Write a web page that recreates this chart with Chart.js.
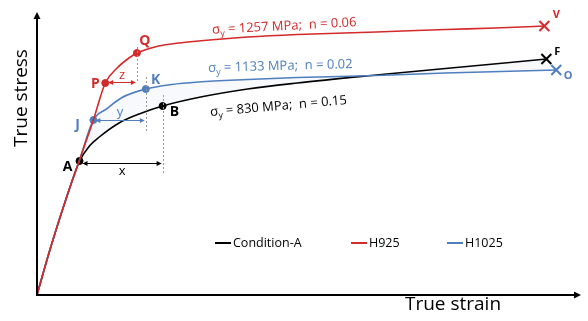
<!DOCTYPE html>
<html>
<head>
<meta charset="utf-8">
<script src="https://cdn.jsdelivr.net/npm/chart.js@4.4.0/dist/chart.umd.min.js"></script>
<style>
  html, body { margin: 0; padding: 0; background: #fff; }
  #wrap { width: 588px; height: 321px; }
</style>
</head>
<body>
<div id="wrap"><canvas id="chartCurvas" width="588" height="321"></canvas></div>
<script>
// ==============================
//  DATOS (unidades arbitrarias)
// ==============================
const strainCondA = [0, 1.3, 3.0, 4.3, 5.3, 6.3, 8.3, 10.6, 12.7, 16.3, 21.3, 26.3, 34.3, 41.3, 51.5];
const stressCondA = [0, 270, 588, 804, 894, 948, 1032, 1092, 1134, 1185, 1236, 1272, 1320, 1359, 1416];

const strainH925 = [0, 1.3, 3.0, 4.3, 5.7, 6.9, 8.1, 9.3, 10.1, 12.3, 14.3, 16.3, 21.3, 26.3, 34.3, 41.3, 46.3, 51.3];
const stressH925 = [0, 270, 588, 810, 1050, 1272, 1362, 1422, 1452, 1494, 1512, 1524, 1548, 1563, 1578, 1593, 1602, 1614];

const strainH1025 = [0, 1.3, 3.0, 4.3, 5.7, 7.0, 8.6, 11.0, 13.6, 16.3, 21.3, 26.3, 34.3, 41.3, 52.5];
const stressH1025 = [0, 270, 588, 810, 1050, 1115, 1185, 1236, 1263, 1278, 1293, 1305, 1317, 1332, 1350];

const seriesNames = ["Condition-A", "H925", "H1025"];
const seriesColors = ["#000000", "#d42a2a", "#4f7fbf"];

// puntos marcados (A, B, J, K, P, Q)
const pointLabels = ["A", "B", "J", "K", "P", "Q"];
const pointStrain = [4.3, 12.7, 5.7, 11.0, 6.9, 10.1];
const pointStress = [804, 1134, 1050, 1236, 1272, 1452];
const pointSeries = [0, 0, 2, 2, 1, 1];

// fin de curva (F, V, O)
const endLabels = ["F", "V", "O"];
const endStrain = [51.5, 51.3, 52.5];
const endStress = [1416, 1614, 1350];

// textos de parámetros
const paramSigma = [830, 1257, 1133];
const paramN = ["0.15", "0.06", "0.02"];

// ==============================
//  HELPERS
// ==============================
function toXY(xs, ys) {
  return xs.map((x, i) => ({ x: x, y: ys[i] }));
}

function arrowHead(ctx, x, y, dir, size) {
  // dir: ángulo hacia donde apunta la flecha
  ctx.beginPath();
  ctx.moveTo(x, y);
  ctx.lineTo(x - size * Math.cos(dir) + size * 0.5 * Math.sin(dir), y - size * Math.sin(dir) - size * 0.5 * Math.cos(dir));
  ctx.lineTo(x - size * Math.cos(dir) - size * 0.5 * Math.sin(dir), y - size * Math.sin(dir) + size * 0.5 * Math.cos(dir));
  ctx.closePath();
  ctx.fill();
}

// líneas punteadas verticales y flechas de distancia (en unidades de datos)
const guides = [
  { x: 12.7, y1: 1200, y2: 732 },
  { x: 11.0, y1: 1308, y2: 972 },
  { x: 10.1, y1: 1488, y2: 1278 }
];
const spans = [
  { x1: 4.6, x2: 12.6, y: 792, color: seriesColors[0], label: "x", ly: 744 },
  { x1: 5.9, x2: 10.9, y: 1050, color: seriesColors[2], label: "y", ly: 1098 },
  { x1: 7.2, x2: 10.0, y: 1278, color: seriesColors[1], label: "z", ly: 1320 }
];
const labelPos = [
  { x: 3.1, y: 768 }, { x: 13.9, y: 1098 }, { x: 4.1, y: 1020 },
  { x: 12.0, y: 1290 }, { x: 5.9, y: 1266 }, { x: 10.9, y: 1524 }
];
const endLabelPos = [{ x: 52.6, y: 1458 }, { x: 52.5, y: 1680 }, { x: 53.7, y: 1314 }];
const paramPos = [
  { x: 24.4, y: 1140, rot: -5 },
  { x: 25.0, y: 1620, rot: -3 },
  { x: 24.6, y: 1380, rot: -1.5 }
];

const FONT = "'Open Sans', 'DejaVu Sans', sans-serif";

// ==============================
//  PLUGIN DE ANOTACIONES
// ==============================
const annotPlugin = {
  id: "annot",
  afterDatasetsDraw(chart) {
    const ctx = chart.ctx;
    const xs = chart.scales.x, ys = chart.scales.y;
    const ca = chart.chartArea;
    const px = v => xs.getPixelForValue(v);
    const py = v => ys.getPixelForValue(v);

    ctx.save();

    // ejes con flechas
    ctx.strokeStyle = "#000";
    ctx.fillStyle = "#000";
    ctx.lineWidth = 2;
    ctx.beginPath();
    ctx.moveTo(ca.left, ca.top + 4);
    ctx.lineTo(ca.left, ca.bottom);
    ctx.lineTo(ca.right - 4, ca.bottom);
    ctx.stroke();
    arrowHead(ctx, ca.left, ca.top - 2, -Math.PI / 2, 7);
    arrowHead(ctx, ca.right + 2, ca.bottom, 0, 7);

    // guías punteadas
    ctx.strokeStyle = "#9a9a9a";
    ctx.lineWidth = 1;
    ctx.setLineDash([2, 2]);
    guides.forEach(g => {
      ctx.beginPath();
      ctx.moveTo(Math.round(px(g.x)) + 0.5, py(g.y1));
      ctx.lineTo(Math.round(px(g.x)) + 0.5, py(g.y2));
      ctx.stroke();
    });
    ctx.setLineDash([]);

    // flechas x, y, z
    spans.forEach(s => {
      const a = px(s.x1), b = px(s.x2), y = Math.round(py(s.y)) + 0.5;
      ctx.strokeStyle = s.color;
      ctx.fillStyle = s.color;
      ctx.lineWidth = 1;
      ctx.beginPath();
      ctx.moveTo(a + 3, y);
      ctx.lineTo(b - 3, y);
      ctx.stroke();
      arrowHead(ctx, a, y, Math.PI, 5);
      arrowHead(ctx, b, y, 0, 5);
      ctx.font = "13px " + FONT;
      ctx.textAlign = "center";
      ctx.textBaseline = "middle";
      ctx.fillText(s.label, (a + b) / 2, py(s.ly));
    });

    // etiquetas de puntos
    ctx.font = "bold 14px " + FONT;
    ctx.textAlign = "center";
    ctx.textBaseline = "middle";
    pointLabels.forEach((t, i) => {
      ctx.fillStyle = seriesColors[pointSeries[i]];
      ctx.fillText(t, px(labelPos[i].x), py(labelPos[i].y));
    });
    ctx.font = "bold 11px " + FONT;
    endLabels.forEach((t, i) => {
      ctx.fillStyle = seriesColors[i];
      ctx.fillText(t, px(endLabelPos[i].x), py(endLabelPos[i].y));
    });

    // textos de parámetros
    paramPos.forEach((p, i) => {
      ctx.save();
      ctx.translate(px(p.x), py(p.y));
      ctx.rotate(p.rot * Math.PI / 180);
      ctx.fillStyle = seriesColors[i];
      ctx.textBaseline = "alphabetic";
      ctx.textAlign = "left";
      const main = "13px " + FONT, sub = "9px " + FONT;
      const rest = " = " + paramSigma[i] + " MPa;  n = " + paramN[i];
      ctx.font = main;
      const w1 = ctx.measureText("σ").width;
      const wr = ctx.measureText(rest).width;
      ctx.font = sub;
      const ws = ctx.measureText("y").width;
      let x0 = -(w1 + ws + wr) / 2;
      ctx.font = main;
      ctx.fillText("σ", x0, 5);
      ctx.font = sub;
      ctx.fillText("y", x0 + w1, 8);
      ctx.font = main;
      ctx.fillText(rest, x0 + w1 + ws, 5);
      ctx.restore();
    });

    // leyenda
    const legX = [215, 351, 447];
    const legY = 243;
    ctx.font = "12.5px " + FONT;
    ctx.textAlign = "left";
    ctx.textBaseline = "middle";
    seriesNames.forEach((n, i) => {
      ctx.strokeStyle = seriesColors[i];
      ctx.lineWidth = 2;
      ctx.beginPath();
      ctx.moveTo(legX[i], legY);
      ctx.lineTo(legX[i] + 16, legY);
      ctx.stroke();
      ctx.fillStyle = "#000";
      ctx.fillText(n, legX[i] + 18, legY);
    });

    // títulos de ejes
    ctx.fillStyle = "#000";
    ctx.font = "19px " + FONT;
    ctx.textAlign = "center";
    ctx.textBaseline = "middle";
    ctx.fillText("True strain", 453, 305);
    ctx.save();
    ctx.translate(22, 98);
    ctx.rotate(-Math.PI / 2);
    ctx.fillText("True stress", 0, 0);
    ctx.restore();

    ctx.restore();
  }
};

// ==============================
//  GRÁFICO
// ==============================
const curveStyle = (i) => ({
  borderColor: seriesColors[i],
  backgroundColor: seriesColors[i],
  borderWidth: 1.6,
  pointRadius: 0,
  showLine: true,
  cubicInterpolationMode: "monotone"
});

// Chart.js pinta el primer dataset encima: rojo, azul (relleno hacia el negro), negro
const datasets = [
  Object.assign({ label: seriesNames[1], data: toXY(strainH925, stressH925) }, curveStyle(1)),
  Object.assign({ label: seriesNames[2], data: toXY(strainH1025, stressH1025) }, curveStyle(2),
    { fill: { target: 2 }, backgroundColor: "rgba(79,127,191,0.045)" }),
  Object.assign({ label: seriesNames[0], data: toXY(strainCondA, stressCondA) }, curveStyle(0))
];

// puntos marcados
pointLabels.forEach((t, i) => {
  datasets.push({
    label: t,
    data: [{ x: pointStrain[i], y: pointStress[i] }],
    pointRadius: 3.5,
    pointBackgroundColor: seriesColors[pointSeries[i]],
    pointBorderColor: seriesColors[pointSeries[i]],
    showLine: false
  });
});
// cruces al final
endLabels.forEach((t, i) => {
  datasets.push({
    label: t,
    data: [{ x: endStrain[i], y: endStress[i] }],
    pointStyle: "crossRot",
    pointRadius: 7,
    pointBorderWidth: 2,
    pointBorderColor: seriesColors[i],
    showLine: false
  });
});

new Chart(document.getElementById("chartCurvas"), {
  type: "scatter",
  data: { datasets },
  options: {
    responsive: false,
    animation: false,
    layout: { padding: { left: 37, right: 3, top: 14, bottom: 26 } },
    plugins: { legend: { display: false }, tooltip: { enabled: false } },
    scales: {
      x: { type: "linear", min: 0, max: 54.8, display: false },
      y: { type: "linear", min: 0, max: 1686, display: false }
    }
  },
  plugins: [annotPlugin]
});
</script>
</body>
</html>
